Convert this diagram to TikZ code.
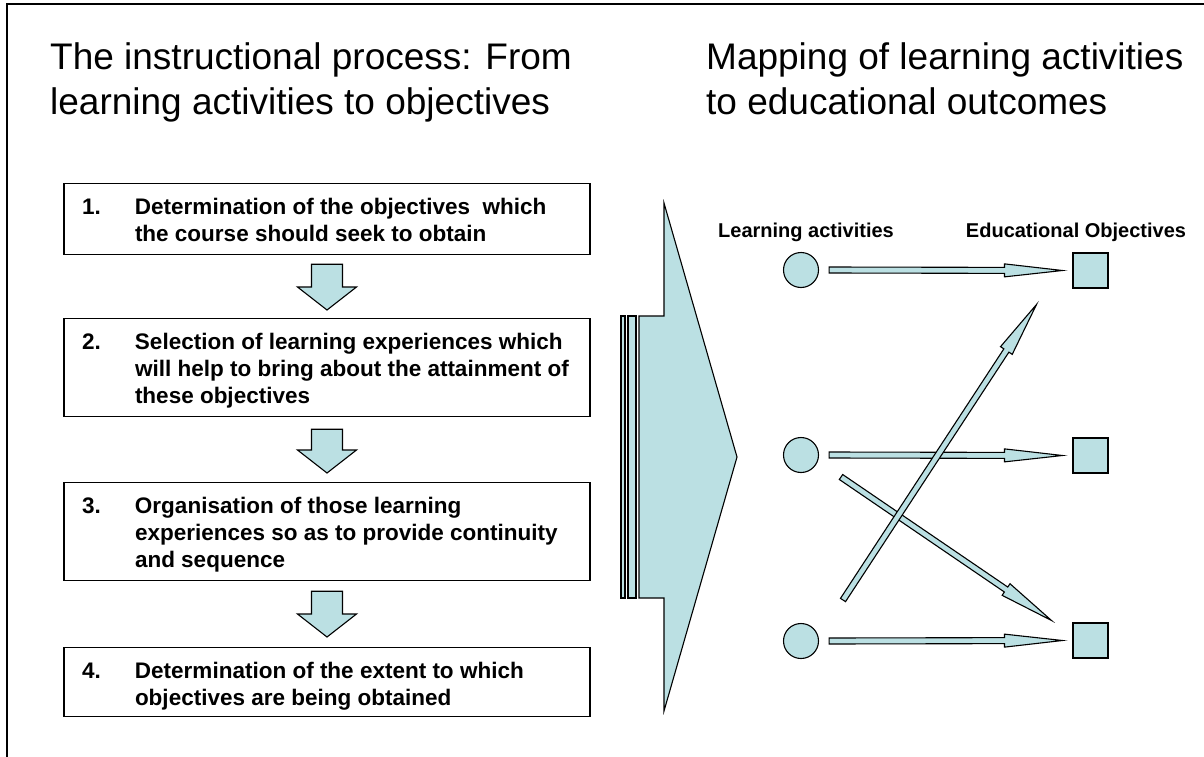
\documentclass[tikz,border=0pt]{standalone}
\usepackage{fontspec}
\setmainfont{Liberation Sans}
\usepackage{tikz}
\usetikzlibrary{calc}

\definecolor{paleblue}{RGB}{187,224,227}

\newcommand{\titlefont}{\fontsize{37}{45}\selectfont}
\newcommand{\stepfont}{\fontsize{22.5}{27}\selectfont\bfseries}
\newcommand{\headfont}{\fontsize{20}{24}\selectfont\bfseries}
\newcommand{\steptext}[1]{\makebox[490pt][l]{\begin{tabular}[t]{@{}p{53pt}@{}l@{}}#1\end{tabular}}}

% block arrow: tail, tip, half shaft, half head, head length
\newcommand{\blockarrow}[5]{%
        \coordinate (tail) at (#1);
        \coordinate (tip) at (#2);
        \coordinate (neck) at ($(tip)!#5!(tail)$);
        \draw[arrowbody] ($(tail)!#3!90:(tip)$) -- ($(neck)!#3!90:(tip)$) -- ($(neck)!#4!90:(tip)$)
                -- (tip) -- ($(neck)!#4!-90:(tip)$) -- ($(neck)!#3!-90:(tip)$) -- ($(tail)!#3!-90:(tip)$) -- cycle;
}

\begin{document}
\begin{tikzpicture}[x=1pt, y=-1pt, arrowbody/.style={fill=paleblue, draw, line width=1.1pt, line join=miter}]
        \useasboundingbox (0,0) rectangle (1204,757);
        \draw[line width=1.4pt] (1204,4) -- (7,4) -- (7,757);

        \node[anchor=base west, inner sep=0] (T1) at (50,70) {\titlefont\begin{tabular}[t]{@{}l@{}}The instructional process: From\\learning activities to objectives\end{tabular}};
        \node[anchor=base west, inner sep=0] (T2) at (706,70) {\titlefont\begin{tabular}[t]{@{}l@{}}Mapping of learning activities\\to educational outcomes\end{tabular}};

        \begin{scope}[every node/.style={draw, line width=1.2pt, inner ysep=0, inner xsep=18pt, text height=31pt, font=\stepfont, anchor=north}]
                \node[text depth=40pt] (S1) at (327,183) {\steptext{1. & Determination of the objectives \ which\\ & the course should seek to obtain}};
                \node[text depth=67pt] (S2) at (327,318) {\steptext{2. & Selection of learning experiences which\\ & will help to bring about the attainment of\\ & these objectives}};
                \node[text depth=67pt] (S3) at (327,482) {\steptext{3. & Organisation of those learning\\ & experiences so as to provide continuity\\ & and sequence}};
                \node[text depth=38pt] (S4) at (327,647) {\steptext{4. & Determination of the extent to which\\ & objectives are being obtained}};
        \end{scope}

        \blockarrow{$(S1.south)+(0,9)$}{$(S2.north)+(0,-8)$}{15.5pt}{29.5pt}{23pt}
        \blockarrow{$(S2.south)+(0,12)$}{$(S3.north)+(0,-9)$}{15.5pt}{29.5pt}{23pt}
        \blockarrow{$(S3.south)+(0,10)$}{$(S4.north)+(0,-10)$}{15.5pt}{29.5pt}{23pt}

        \draw[arrowbody] (639,316) -- (664,316) -- (664,203) -- (737,457) -- (664,711) -- (664,598) -- (639,598) -- cycle;
        \draw[arrowbody] (621,316) rectangle (625,598);
        \draw[arrowbody] (628,316) rectangle (636,598);

        \node[font=\headfont] (LA) at (806,232) {Learning activities};
        \node[font=\headfont] (EO) at (1076,232) {Educational Objectives};

        \begin{scope}[every node/.style={fill=paleblue, draw, line width=1.1pt, minimum size=35pt, inner sep=0}]
                \node[circle] (act1) at (801,270) {};
                \node[circle] (act2) at (801,455) {};
                \node[circle] (act3) at (801,641) {};
                \node[rectangle] (obj1) at (1090.5,270.5) {};
                \node[rectangle] (obj2) at (1090.5,455.5) {};
                \node[rectangle] (obj3) at (1090.5,640.5) {};
        \end{scope}

        \blockarrow{$(act1.east)+(10,0)$}{$(obj1.west)+(-10,0)$}{3pt}{6.5pt}{58pt}
        \blockarrow{$(act2.east)+(10,0)$}{$(obj2.west)+(-10,0)$}{3pt}{6.5pt}{58pt}
        \blockarrow{$(act3.east)+(10,0)$}{$(obj3.west)+(-10,0)$}{3pt}{6.5pt}{58pt}
        \blockarrow{$(act2)+(40,22)$}{$(obj3)+(-39,-20)$}{3pt}{7pt}{55pt}
        \blockarrow{$(act3)+(42,-41)$}{$(obj1)+(-54,34)$}{3pt}{7pt}{55pt}
\end{tikzpicture}
\end{document}
